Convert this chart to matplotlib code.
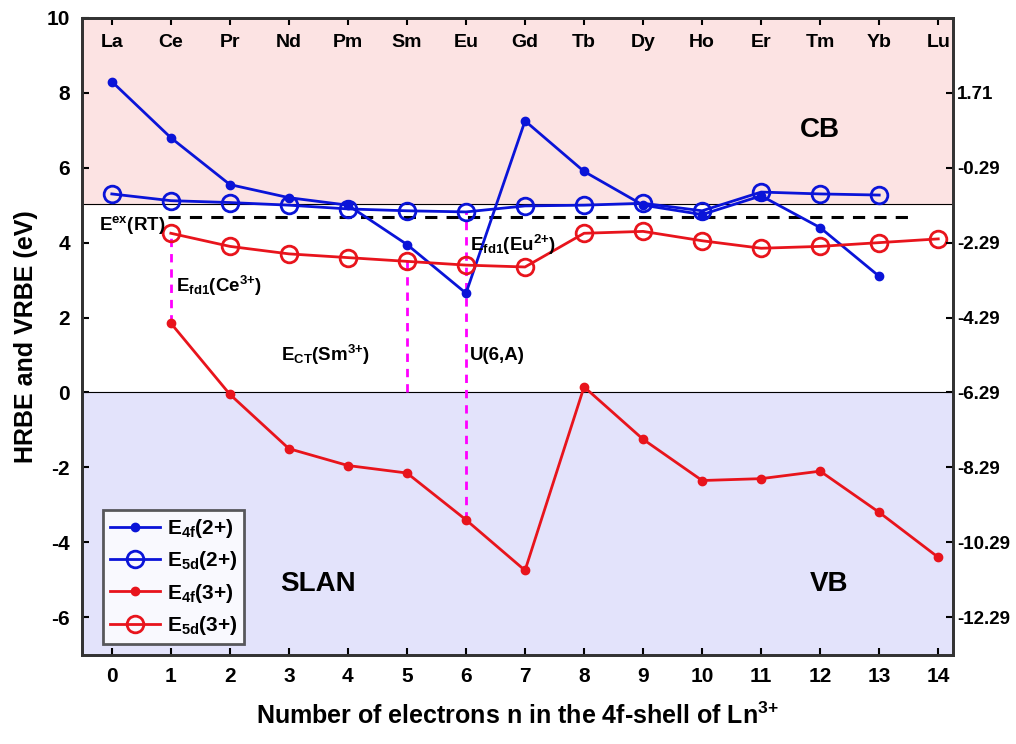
import numpy as np
import matplotlib.pyplot as plt

plt.rcParams['font.family'] = ['Liberation Sans', 'DejaVu Sans']
plt.rcParams['font.weight'] = 'bold'
plt.rcParams['mathtext.fontset'] = 'custom'
plt.rcParams['mathtext.rm'] = 'Liberation Sans:bold'
plt.rcParams['mathtext.it'] = 'Liberation Sans:bold'
plt.rcParams['mathtext.bf'] = 'Liberation Sans:bold'
plt.rcParams['axes.unicode_minus'] = False

# data
elements = ['La', 'Ce', 'Pr', 'Nd', 'Pm', 'Sm', 'Eu', 'Gd', 'Tb', 'Dy', 'Ho', 'Er', 'Tm', 'Yb', 'Lu']
n_all = list(range(15))
n_2p = list(range(14))
n_3p = list(range(1, 15))
e4f_2p = [8.3, 6.8, 5.55, 5.2, 5.0, 3.95, 2.65, 7.25, 5.9, 5.0, 4.75, 5.25, 4.4, 3.1]
e5d_2p = [5.3, 5.12, 5.07, 5.0, 4.9, 4.85, 4.82, 4.98, 5.0, 5.05, 4.85, 5.35, 5.3, 5.27]
e4f_3p = [1.85, -0.05, -1.5, -1.95, -2.15, -3.4, -4.75, 0.15, -1.25, -2.35, -2.3, -2.1, -3.2, -4.4]
e5d_3p = [4.25, 3.9, 3.7, 3.6, 3.5, 3.4, 3.35, 4.25, 4.3, 4.05, 3.85, 3.9, 4.0, 4.1]
cb_bottom = 5.04
vb_top = 0.0
e_ex = 4.69
right_offset = 6.29

fig = plt.figure(figsize=(10.16, 7.44), dpi=100)
ax = fig.add_axes([0.081, 0.12, 0.857, 0.856])
xlo, xhi = -0.5, 14.25
ylo, yhi = -7, 10
ax.set_xlim(xlo, xhi)
ax.set_ylim(ylo, yhi)

#   background bands
ax.axhspan(cb_bottom, yhi, color='#fce3e3', zorder=0)
ax.axhspan(ylo, vb_top, color='#e3e3fb', zorder=0)
ax.axhline(cb_bottom, color='black', lw=0.8, zorder=1)
ax.axhline(vb_top, color='black', lw=0.8, zorder=1)
ax.plot([0.95, 13.55], [e_ex, e_ex], ls=(0, (4, 3)), color='black', lw=2.2, zorder=2)

#   magenta guide lines
mag = '#ff00ff'
ax.plot([1, 1], [e4f_3p[0], e5d_3p[0]], ls=(0, (3, 2.5)), color=mag, lw=2, zorder=2)
ax.plot([5, 5], [vb_top, e5d_3p[4]], ls=(0, (3, 2.5)), color=mag, lw=2, zorder=2)
ax.plot([6, 6], [e4f_3p[5], e5d_2p[6]], ls=(0, (3, 2.5)), color=mag, lw=2, zorder=2)

blue = '#0a14d8'
red = '#e8141c'
ax.plot(n_2p, e4f_2p, '-o', color=blue, lw=2, ms=6, label=r'E$_{4f}$(2+)', zorder=3)
ax.plot(n_2p, e5d_2p, '-o', color=blue, lw=2, ms=12, mfc='none', mew=2, label=r'E$_{5d}$(2+)', zorder=3)
ax.plot(n_3p, e4f_3p, '-o', color=red, lw=2, ms=6, label=r'E$_{4f}$(3+)', zorder=3)
ax.plot(n_3p, e5d_3p, '-o', color=red, lw=2, ms=12, mfc='none', mew=2, label=r'E$_{5d}$(3+)', zorder=3)

#   element names along the top
for i, el in enumerate(elements):
    ax.text(n_all[i], 9.33, el, ha='center', va='center', fontsize=14, fontweight='bold')

fs = 13.5
ax.text(-0.22, 4.47, r'E$^{ex}$(RT)', fontsize=fs, fontweight='bold', ha='left', va='center')
ax.text(1.08, 2.85, r'E$_{fd1}$(Ce$^{3{+}}$)', fontsize=fs, fontweight='bold', ha='left', va='center')
ax.text(2.86, 1.0, r'E$_{CT}$(Sm$^{3{+}}$)', fontsize=fs, fontweight='bold', ha='left', va='center')
ax.text(6.07, 1.0, 'U(6,A)', fontsize=fs, fontweight='bold', ha='left', va='center')
ax.text(6.07, 3.95, r'E$_{fd1}$(Eu$^{2{+}}$)', fontsize=fs, fontweight='bold', ha='left', va='center')
ax.text(12.0, 7.0, 'CB', fontsize=20, fontweight='bold', ha='center', va='center')
ax.text(3.5, -5.12, 'SLAN', fontsize=20, fontweight='bold', ha='center', va='center')
ax.text(12.15, -5.12, 'VB', fontsize=20, fontweight='bold', ha='center', va='center')

ax.set_xticks(n_all)
ax.set_yticks(np.arange(-6, 11, 2))
ax.tick_params(direction='in', length=5, width=1.5, labelsize=15, top=True, pad=9)
ax.set_xlabel(r'Number of electrons n in the 4f-shell of Ln$^{3{+}}$', fontsize=18, fontweight='bold', labelpad=12)
ax.set_ylabel('HRBE and VRBE (eV)', fontsize=18, fontweight='bold', labelpad=6)
for sp in ax.spines.values():
    sp.set_linewidth(2)
    sp.set_color('#333333')

ax2 = ax.twinx()
ax2.set_ylim(ylo - right_offset, yhi - right_offset)
right_ticks = np.arange(-12.29, 2, 2)
ax2.set_yticks(right_ticks)
ax2.set_yticklabels(['%.2f' % t for t in right_ticks])
ax2.tick_params(direction='in', length=5, width=1.5, labelsize=13.5, pad=3)
for sp in ax2.spines.values():
    sp.set_linewidth(2)
    sp.set_color('#333333')

leg = ax.legend(loc='lower left', bbox_to_anchor=(0.012, 0.0), fontsize=15, frameon=True,
                fancybox=False, edgecolor='#333333', handlelength=2.4, borderpad=0.35,
                labelspacing=0.45, handletextpad=0.3)
leg.get_frame().set_linewidth(2)
for t in leg.get_texts():
    t.set_fontweight('bold')

fig.savefig('out.png', dpi=100)
